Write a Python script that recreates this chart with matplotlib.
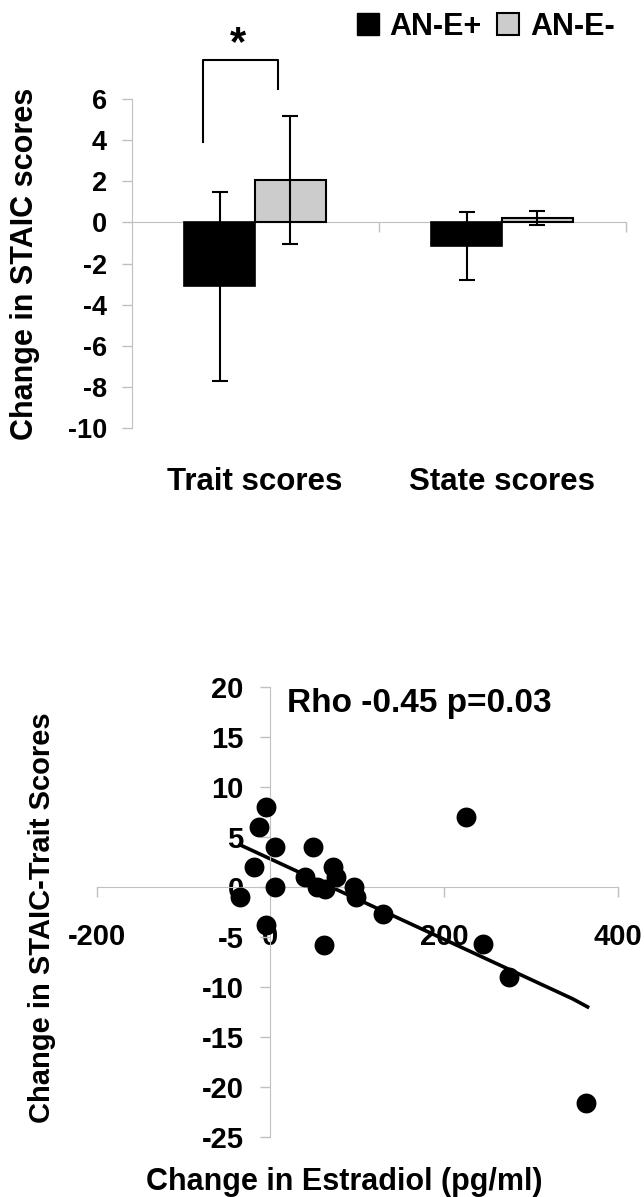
import matplotlib
matplotlib.use("Agg")
import matplotlib.pyplot as plt
from matplotlib.patches import Patch

plt.rcParams['font.family'] = ['Liberation Sans', 'DejaVu Sans']
plt.rcParams['font.weight'] = 'bold'

# ---------------- data ----------------
categories = ['Trait scores', 'State scores']
an_e_plus = [-3.1, -1.15]
an_e_plus_err = [4.6, 1.65]
an_e_minus = [2.07, 0.2]
an_e_minus_err = [3.1, 0.34]
series_labels = ['AN-E+', 'AN-E-']
bar_yticks = [6, 4, 2, 0, -2, -4, -6, -8, -10]

estradiol_change = [-5, -13, 5, -19, 5, -35, -5, 49, 40, 54, 63, 72, 75, 62,
                    96, 98, 130, 225, 245, 275, 363]
trait_change = [8, 6, 4, 2, 0, -1, -3.8, 4, 1, 0, -0.2, 2, 1, -5.8,
                0, -1, -2.7, 7, -5.7, -9, -21.6]
fit_x = [-35, 348, 365]
fit_y = [4.2, -11.2, -12.0]
scatter_xticks = [-200, 0, 200, 400]
scatter_yticks = [20, 15, 10, 5, 0, -5, -10, -15, -20, -25]

GRAY = '#C0C0C0'
W, H = 644, 1197
fig = plt.figure(figsize=(W / 100, H / 100), dpi=100)

# ---------------- bar chart ----------------
ax1 = fig.add_axes([131.5 / W, 1 - 428.3 / H, (625.5 - 131.5) / W, (428.3 - 99) / H])
x = [0, 1]
bw = 0.287
off = 0.143
ax1.bar([i - off for i in x], an_e_plus, width=bw, color='black', edgecolor='black',
        linewidth=1.2, label=series_labels[0], zorder=2)
ax1.bar([i + off for i in x], an_e_minus, width=bw, color='#CCCCCC', edgecolor='black',
        linewidth=1.5, label=series_labels[1], zorder=2)
ax1.errorbar([i - off for i in x], an_e_plus, yerr=an_e_plus_err, fmt='none',
             ecolor='black', elinewidth=1.5, capsize=6, capthick=1.5, zorder=3)
ax1.errorbar([i + off for i in x], an_e_minus, yerr=an_e_minus_err, fmt='none',
             ecolor='black', elinewidth=1.5, capsize=6, capthick=1.5, zorder=3)

ax1.set_xlim(-0.5, 1.5)
ax1.set_ylim(-10, 6)
ax1.set_yticks(bar_yticks)
ax1.set_yticklabels([str(v) for v in bar_yticks])
for s in ['top', 'right']:
    ax1.spines[s].set_visible(False)
ax1.spines['bottom'].set_position(('data', 0))
ax1.spines['bottom'].set_color(GRAY)
ax1.spines['left'].set_color(GRAY)
ax1.spines['bottom'].set_zorder(1)
ax1.set_xticks([0.5, 1.5])
ax1.set_xticklabels(['', ''])
ax1.tick_params(axis='x', direction='out', length=7.2, color=GRAY, width=1)
ax1.tick_params(axis='y', direction='out', length=7.2, color=GRAY, width=1,
                labelsize=19.5, pad=10.5)
sec = ax1.secondary_xaxis('bottom')
sec.set_xticks(x)
sec.set_xticklabels(categories)
sec.spines['bottom'].set_visible(False)
sec.tick_params(axis='x', length=0, labelsize=22.5, pad=28)
ax1.set_ylabel('Change in STAIC scores', fontsize=22, fontweight='bold')
ax1.yaxis.set_label_coords(-0.215, 0.5)
ax1.yaxis.label.set_va('center')

# significance bracket
ax1.plot([-0.211, -0.211, 0.095, 0.095], [3.9, 7.9, 7.9, 6.5], color='black',
         lw=1.5, clip_on=False, zorder=4)
ax1.text(-0.07, 8.65, '*', fontsize=30, fontweight='bold', ha='center', va='center',
         clip_on=False)

handles = [Patch(facecolor='black', edgecolor='black'),
           Patch(facecolor='#CCCCCC', edgecolor='black', linewidth=1.5)]
fig.legend(handles, series_labels, loc='upper left', bbox_to_anchor=(357 / W, 1 - 12 / H),
           ncol=2, frameon=False, fontsize=22, handlelength=0.72, handleheight=0.72,
           handletextpad=0.35, columnspacing=0.5, borderaxespad=0, borderpad=0)

# ---------------- scatter ----------------
ax2 = fig.add_axes([96.5 / W, 1 - 1137 / H, (618 - 96.5) / W, (1137 - 686.7) / H])
ax2.scatter(estradiol_change, trait_change, s=205, color='black', zorder=3,
            linewidths=0)
ax2.plot(fit_x, fit_y, color='black', lw=2.6, zorder=2)
ax2.set_xlim(-200, 400)
ax2.set_ylim(-25, 20)
ax2.set_xticks(scatter_xticks)
ax2.set_xticklabels([str(v) for v in scatter_xticks])
ax2.set_yticks(scatter_yticks)
ax2.set_yticklabels([str(v) for v in scatter_yticks])
for s in ['top', 'right']:
    ax2.spines[s].set_visible(False)
ax2.spines['left'].set_position(('data', 0))
ax2.spines['bottom'].set_position(('data', 0))
ax2.spines['left'].set_color(GRAY)
ax2.spines['bottom'].set_color(GRAY)
ax2.tick_params(axis='x', direction='out', length=7.2, color=GRAY, width=1,
                labelsize=21, pad=19)
ax2.tick_params(axis='y', direction='out', length=7.2, color=GRAY, width=1,
                labelsize=21, pad=12)
ax2.text(0.365, 0.944, 'Rho -0.45 p=0.03', transform=ax2.transAxes, fontsize=24,
         fontweight='bold', ha='left', va='baseline')
ax2.set_xlabel('Change in Estradiol (pg/ml)', fontsize=22, fontweight='bold')
ax2.xaxis.set_label_coords(0.475, -0.1)
ax2.xaxis.label.set_va('center')
ax2.set_ylabel('Change in STAIC-Trait Scores', fontsize=21, fontweight='bold')
ax2.yaxis.set_label_coords(-0.104, 0.486)
ax2.yaxis.label.set_va('center')

fig.savefig('out.png', dpi=100, facecolor='white')
